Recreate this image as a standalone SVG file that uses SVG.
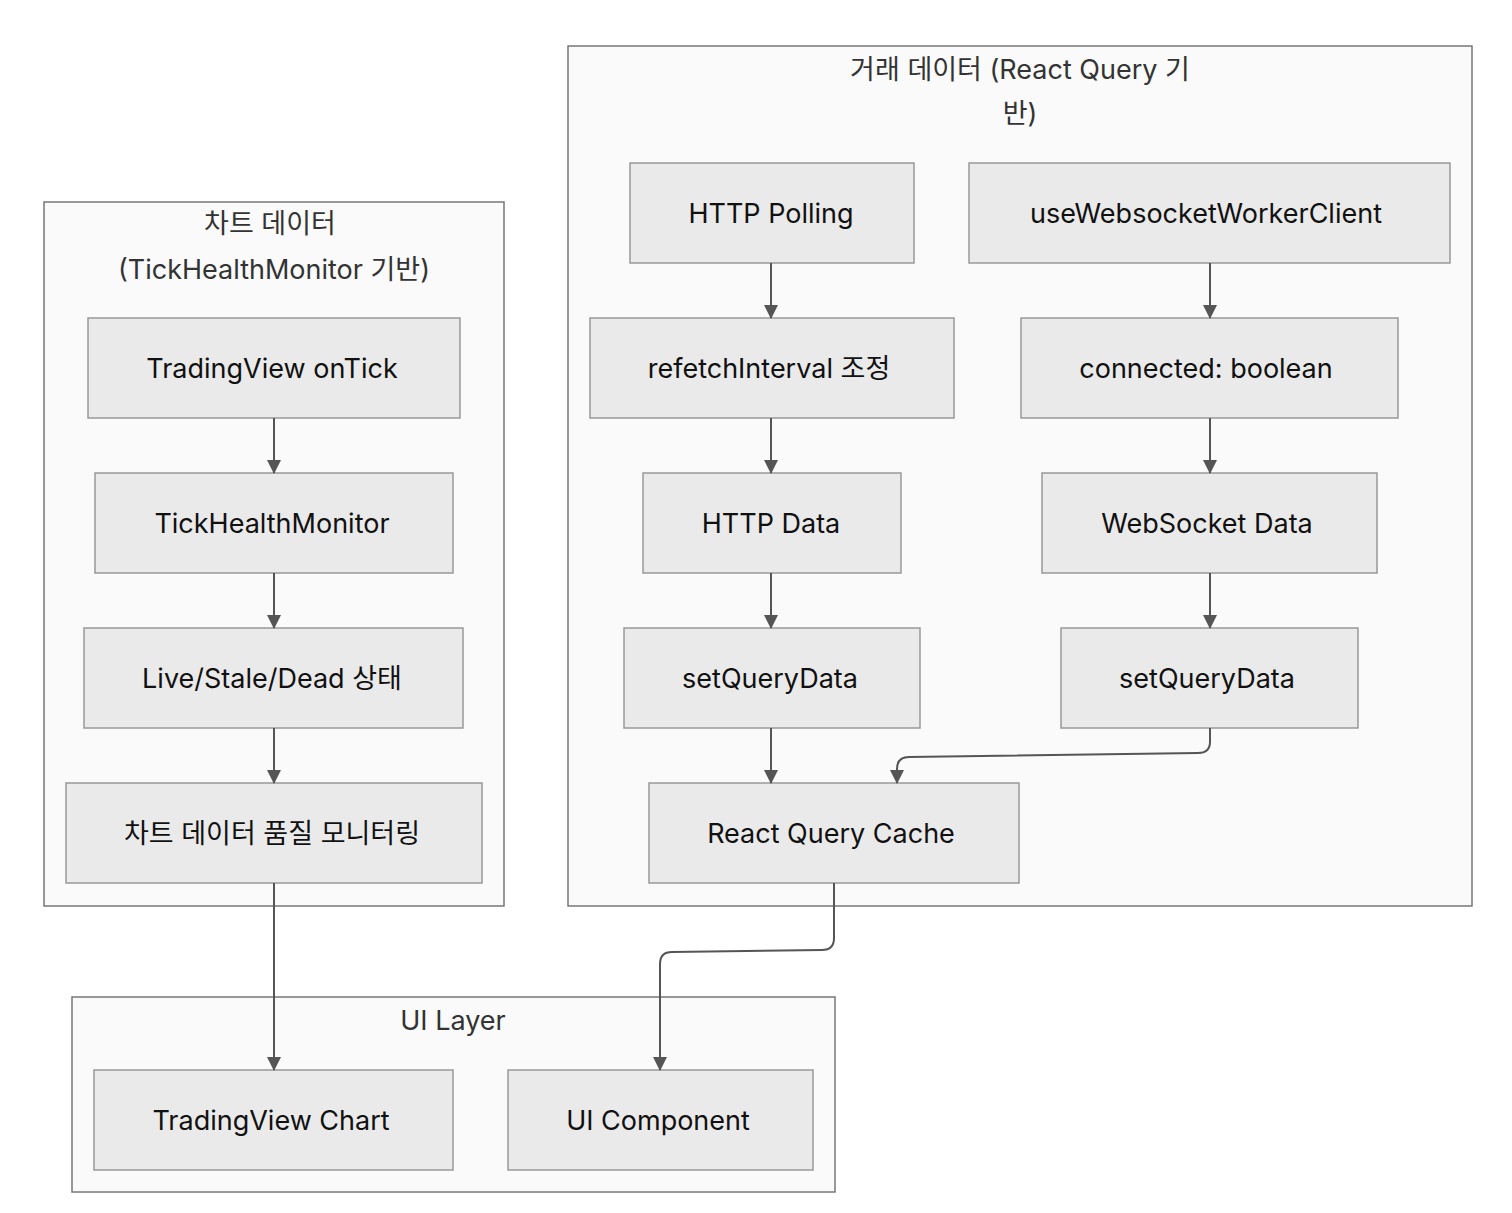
<svg xmlns="http://www.w3.org/2000/svg" width="1512" height="1213" viewBox="0 0 1512 1213">
<defs>
<style>
.cluster{fill:#fafafa;stroke:#777;stroke-width:1.5}
.node rect{fill:#eaeaea;stroke:#999;stroke-width:1.5}
text{font-family:Inter,"Noto Sans CJK KR",sans-serif;font-size:27px;fill:#111;text-anchor:middle}
.ct{fill:#333}
.edge{fill:none;stroke:#555;stroke-width:2;marker-end:url(#arr)}
</style>
<marker id="arr" viewBox="0 0 14 14" refX="13" refY="7" markerWidth="14" markerHeight="14" markerUnits="userSpaceOnUse" orient="auto">
<path d="M0,0 L14,7 L0,14 Z" fill="#555"/>
</marker>
</defs>
<rect width="1512" height="1213" fill="#fff"/>
<g id="cluster-chart">
<rect class="cluster" x="44" y="202" width="460" height="704"/>
<text class="ct" x="270" y="233">차트 데이터</text>
<text class="ct" x="274" y="279">(TickHealthMonitor 기반)</text>
</g>
<g id="cluster-trade">
<rect class="cluster" x="568" y="46" width="904" height="860"/>
<text class="ct" x="1020" y="79">거래 데이터 (React Query 기</text>
<text class="ct" x="1020" y="123">반)</text>
</g>
<g id="cluster-ui">
<rect class="cluster" x="72" y="997" width="763" height="195"/>
<text class="ct" x="453" y="1030">UI Layer</text>
</g>
<g id="n-onTick" class="node"><rect x="88" y="318" width="372" height="100"/><text x="272" y="378">TradingView onTick</text></g>
<g id="n-thm" class="node"><rect x="95" y="473" width="358" height="100"/><text x="272" y="533">TickHealthMonitor</text></g>
<g id="n-state" class="node"><rect x="84" y="628" width="379" height="100"/><text x="272" y="688">Live/Stale/Dead 상태</text></g>
<g id="n-quality" class="node"><rect x="66" y="783" width="416" height="100"/><text x="272" y="843">차트 데이터 품질 모니터링</text></g>
<g id="n-poll" class="node"><rect x="630" y="163" width="284" height="100"/><text x="771" y="223">HTTP Polling</text></g>
<g id="n-ws" class="node"><rect x="969" y="163" width="481" height="100"/><text x="1206" y="223">useWebsocketWorkerClient</text></g>
<g id="n-refetch" class="node"><rect x="590" y="318" width="364" height="100"/><text x="769" y="378">refetchInterval 조정</text></g>
<g id="n-conn" class="node"><rect x="1021" y="318" width="377" height="100"/><text x="1206" y="378">connected: boolean</text></g>
<g id="n-httpdata" class="node"><rect x="643" y="473" width="258" height="100"/><text x="771" y="533">HTTP Data</text></g>
<g id="n-wsdata" class="node"><rect x="1042" y="473" width="335" height="100"/><text x="1207" y="533">WebSocket Data</text></g>
<g id="n-sqd1" class="node"><rect x="624" y="628" width="296" height="100"/><text x="770" y="688">setQueryData</text></g>
<g id="n-sqd2" class="node"><rect x="1061" y="628" width="297" height="100"/><text x="1207" y="688">setQueryData</text></g>
<g id="n-cache" class="node"><rect x="649" y="783" width="370" height="100"/><text x="831" y="843">React Query Cache</text></g>
<g id="n-tvchart" class="node"><rect x="94" y="1070" width="359" height="100"/><text x="271" y="1130">TradingView Chart</text></g>
<g id="n-uicomp" class="node"><rect x="508" y="1070" width="305" height="100"/><text x="658" y="1130">UI Component</text></g>
<g id="connectors">
<path class="edge" d="M274,418 V473"/>
<path class="edge" d="M274,573 V628"/>
<path class="edge" d="M274,728 V783"/>
<path class="edge" d="M274,883 V1070"/>
<path class="edge" d="M771,263 V318"/>
<path class="edge" d="M771,418 V473"/>
<path class="edge" d="M771,573 V628"/>
<path class="edge" d="M771,728 V783"/>
<path class="edge" d="M1210,263 V318"/>
<path class="edge" d="M1210,418 V473"/>
<path class="edge" d="M1210,573 V628"/>
<path class="edge" d="M1210,728 V742 Q1210,753 1198,753 L909,757 Q897,757 897,769 V783"/>
<path class="edge" d="M834,883 V938 Q834,950 822,950 L672,952 Q660,952 660,964 V1070"/>
</g>
</svg>
